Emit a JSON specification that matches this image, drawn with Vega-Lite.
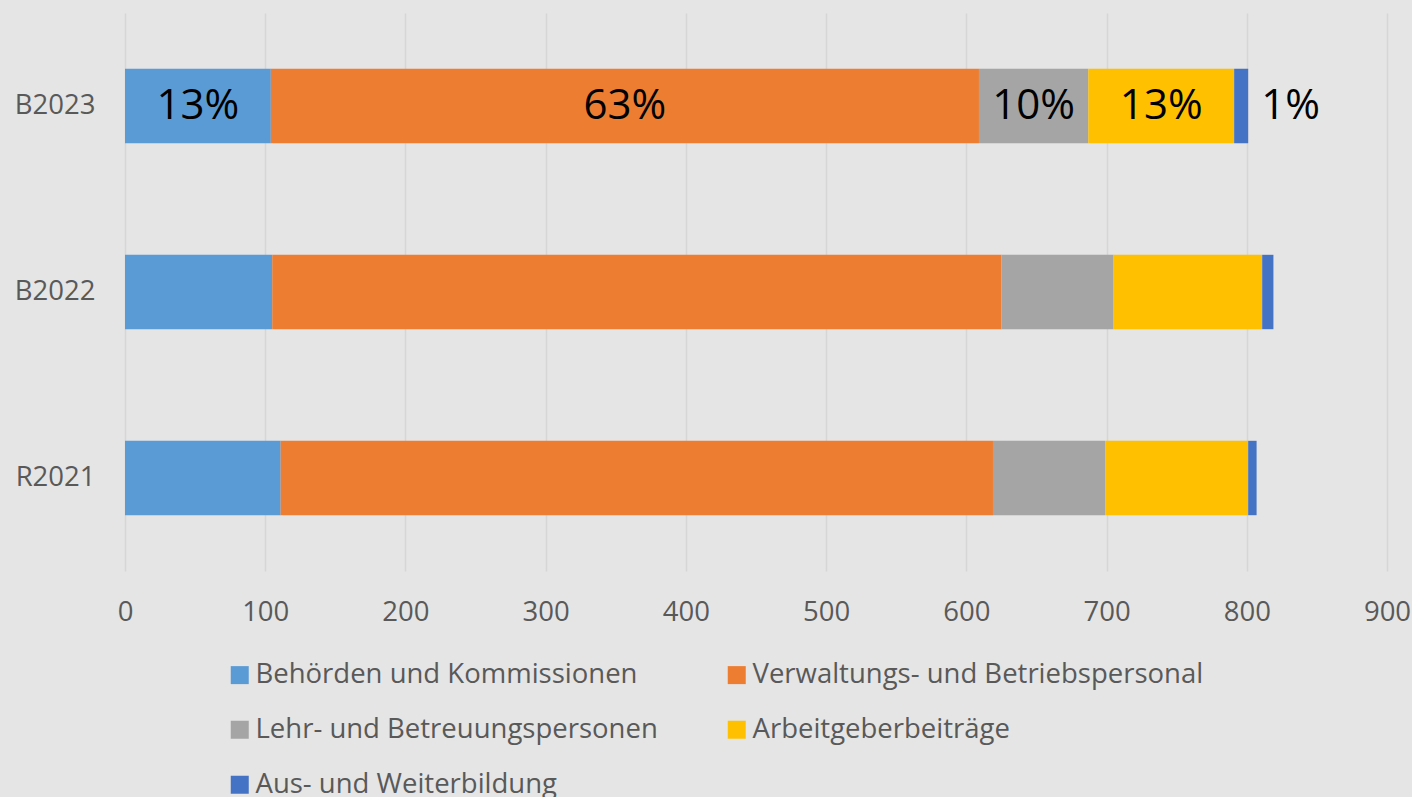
{
  "$schema": "https://vega.github.io/schema/vega-lite/v6.json",
  "width": 1262,
  "height": 558,
  "autosize": {"type": "none"},
  "padding": {"left": 125, "top": 13, "right": 25, "bottom": 226},
  "background": "#e5e5e5",
  "config": {"view": {"stroke": null}, "font": "Open Sans"},
  "data": {
    "values": [
      {"year": "B2023", "category": "Behörden und Kommissionen", "order": 1, "value": 104, "label": "13%"},
      {"year": "B2023", "category": "Verwaltungs- und Betriebspersonal", "order": 2, "value": 505, "label": "63%"},
      {"year": "B2023", "category": "Lehr- und Betreuungspersonen", "order": 3, "value": 78, "label": "10%"},
      {"year": "B2023", "category": "Arbeitgeberbeiträge", "order": 4, "value": 104, "label": "13%"},
      {"year": "B2023", "category": "Aus- und Weiterbildung", "order": 5, "value": 10, "label": "1%"},
      {"year": "B2022", "category": "Behörden und Kommissionen", "order": 1, "value": 105, "label": ""},
      {"year": "B2022", "category": "Verwaltungs- und Betriebspersonal", "order": 2, "value": 520, "label": ""},
      {"year": "B2022", "category": "Lehr- und Betreuungspersonen", "order": 3, "value": 80, "label": ""},
      {"year": "B2022", "category": "Arbeitgeberbeiträge", "order": 4, "value": 106, "label": ""},
      {"year": "B2022", "category": "Aus- und Weiterbildung", "order": 5, "value": 8, "label": ""},
      {"year": "R2021", "category": "Behörden und Kommissionen", "order": 1, "value": 111, "label": ""},
      {"year": "R2021", "category": "Verwaltungs- und Betriebspersonal", "order": 2, "value": 508, "label": ""},
      {"year": "R2021", "category": "Lehr- und Betreuungspersonen", "order": 3, "value": 80, "label": ""},
      {"year": "R2021", "category": "Arbeitgeberbeiträge", "order": 4, "value": 102, "label": ""},
      {"year": "R2021", "category": "Aus- und Weiterbildung", "order": 5, "value": 6, "label": ""}
    ]
  },
  "transform": [
    {"stack": "value", "groupby": ["year"], "sort": [{"field": "order", "order": "ascending"}], "as": ["x0", "x1"]},
    {"calculate": "(datum.x0 + datum.x1) / 2", "as": "mid"}
  ],
  "encoding": {
    "y": {
      "field": "year",
      "type": "nominal",
      "sort": ["B2023", "B2022", "R2021"],
      "scale": {"paddingInner": 0.6, "paddingOuter": 0.3},
      "axis": {
        "title": null,
        "domain": false,
        "ticks": false,
        "labelFontSize": 27.5,
        "labelColor": "#595959",
        "labelPadding": 30
      }
    }
  },
  "layer": [
    {
      "mark": {"type": "bar"},
      "encoding": {
        "x": {
          "field": "x0",
          "type": "quantitative",
          "scale": {"domain": [0, 900], "nice": false},
          "axis": {
            "title": null,
            "values": [0, 100, 200, 300, 400, 500, 600, 700, 800, 900],
            "domain": false,
            "ticks": false,
            "grid": true,
            "gridColor": "#d6d6d6",
            "gridWidth": 1.5,
            "labelFlush": false,
            "labelFontSize": 27.5,
            "labelColor": "#595959",
            "labelPadding": 27
          }
        },
        "x2": {"field": "x1"},
        "color": {
          "field": "category",
          "type": "nominal",
          "scale": {
            "domain": ["Behörden und Kommissionen", "Verwaltungs- und Betriebspersonal", "Lehr- und Betreuungspersonen", "Arbeitgeberbeiträge", "Aus- und Weiterbildung"],
            "range": ["#5B9BD5", "#ED7D31", "#A5A5A5", "#FFC000", "#4472C4"]
          },
          "legend": {
            "title": null,
            "orient": "none",
            "direction": "horizontal",
            "legendX": 101,
            "legendY": 648,
            "columns": 2,
            "symbolType": "square",
            "symbolSize": 324,
            "symbolStrokeWidth": 0,
            "labelFontSize": 27.5,
            "labelColor": "#595959",
            "labelOffset": 2,
            "labelLimit": 0,
            "rowPadding": 26,
            "columnPadding": 65
          }
        }
      }
    },
    {
      "transform": [{"filter": "datum.label != '' && datum.category != 'Aus- und Weiterbildung'"}],
      "mark": {"type": "text", "fontSize": 42, "color": "#000000", "baseline": "middle"},
      "encoding": {
        "x": {"field": "mid", "type": "quantitative"},
        "text": {"field": "label"}
      }
    },
    {
      "transform": [{"filter": "datum.label != '' && datum.category == 'Aus- und Weiterbildung'"}],
      "mark": {"type": "text", "fontSize": 42, "color": "#000000", "align": "left", "dx": 13, "baseline": "middle"},
      "encoding": {
        "x": {"field": "x1", "type": "quantitative"},
        "text": {"field": "label"}
      }
    }
  ]
}
